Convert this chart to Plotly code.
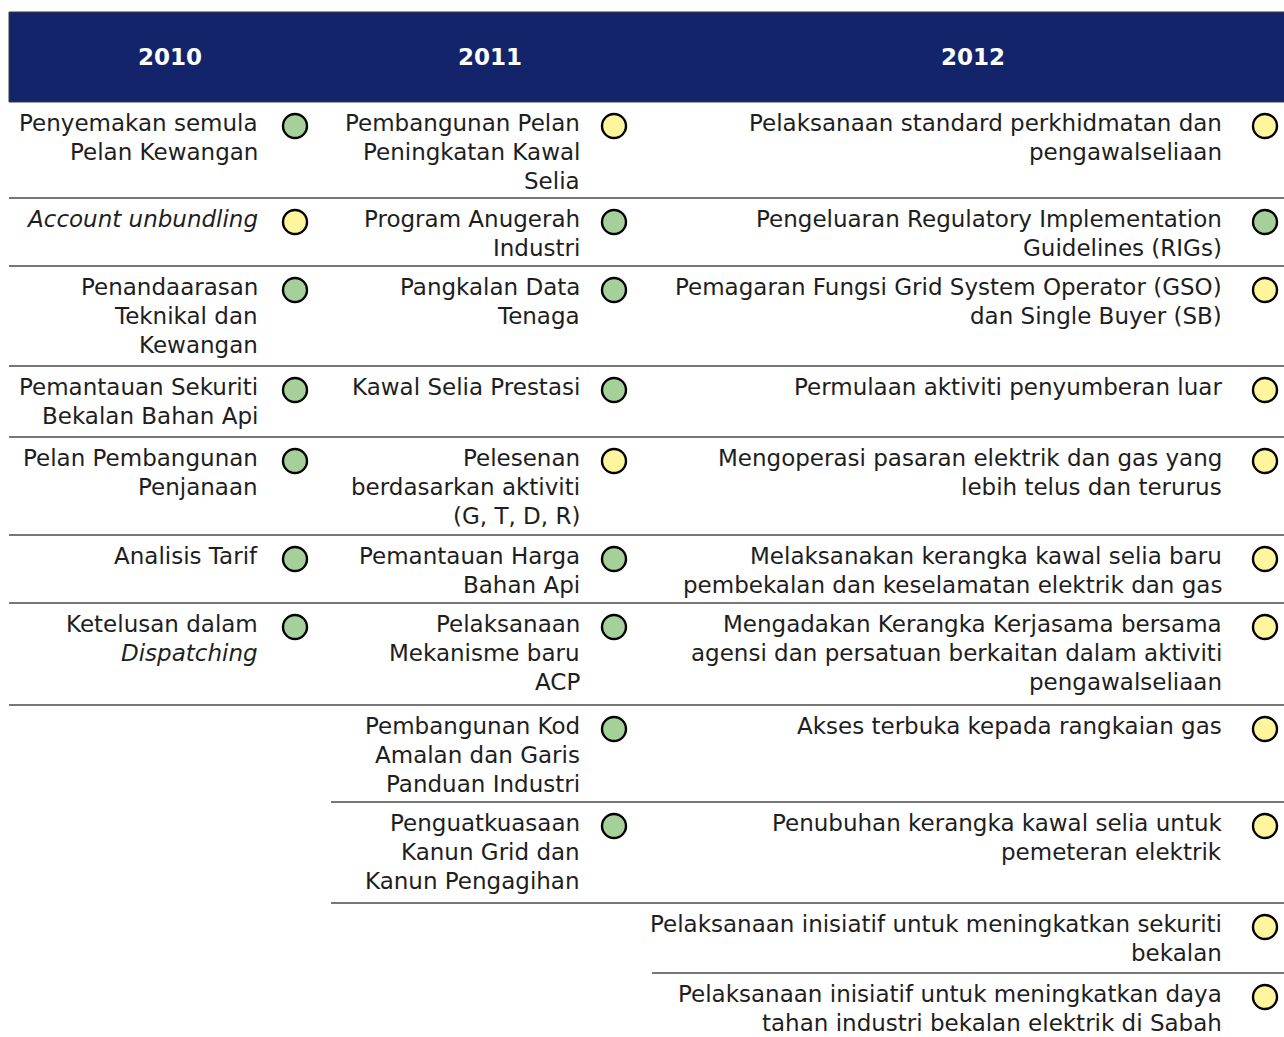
import plotly.graph_objects as go

# ---- data ----
years = ["2010", "2011", "2012"]

items_2010 = [
    "Penyemakan semula<br>Pelan Kewangan",
    "<i>Account unbundling</i>",
    "Penandaarasan<br>Teknikal dan<br>Kewangan",
    "Pemantauan Sekuriti<br>Bekalan Bahan Api",
    "Pelan Pembangunan<br>Penjanaan",
    "Analisis Tarif",
    "Ketelusan dalam<br><i>Dispatching</i>",
]
status_2010 = ["G", "Y", "G", "G", "G", "G", "G"]

items_2011 = [
    "Pembangunan Pelan<br>Peningkatan Kawal<br>Selia",
    "Program Anugerah<br>Industri",
    "Pangkalan Data<br>Tenaga",
    "Kawal Selia Prestasi",
    "Pelesenan<br>berdasarkan aktiviti<br>(G, T, D, R)",
    "Pemantauan Harga<br>Bahan Api",
    "Pelaksanaan<br>Mekanisme baru<br>ACP",
    "Pembangunan Kod<br>Amalan dan Garis<br>Panduan Industri",
    "Penguatkuasaan<br>Kanun Grid dan<br>Kanun Pengagihan",
]
status_2011 = ["Y", "G", "G", "G", "Y", "G", "G", "G", "G"]

items_2012 = [
    "Pelaksanaan standard perkhidmatan dan<br>pengawalseliaan",
    "Pengeluaran Regulatory Implementation<br>Guidelines (RIGs)",
    "Pemagaran Fungsi Grid System Operator (GSO)<br>dan Single Buyer (SB)",
    "Permulaan aktiviti penyumberan luar",
    "Mengoperasi pasaran elektrik dan gas yang<br>lebih telus dan terurus",
    "Melaksanakan kerangka kawal selia baru<br>pembekalan dan keselamatan elektrik dan gas",
    "Mengadakan Kerangka Kerjasama bersama<br>agensi dan persatuan berkaitan dalam aktiviti<br>pengawalseliaan",
    "Akses terbuka kepada rangkaian gas",
    "Penubuhan kerangka kawal selia untuk<br>pemeteran elektrik",
    "Pelaksanaan inisiatif untuk meningkatkan sekuriti<br>bekalan",
    "Pelaksanaan inisiatif untuk meningkatkan daya<br>tahan industri bekalan elektrik di Sabah",
]
status_2012 = ["Y", "G", "Y", "Y", "Y", "Y", "Y", "Y", "Y", "Y", "Y"]

# ---- layout constants (pixels) ----
W, H = 1284, 1037
HEADER_TOP, HEADER_BOT = 12, 102
ROW_EDGES = [102, 198, 266, 366, 437, 535, 603, 705, 802, 903, 973, 1045]
LINE_H = 29
COLS = [  # (left, right, text right edge, circle x, header centre)
    (9, 331, 260, 295, 170),
    (331, 652, 582, 614, 490),
    (652, 1284, 1224, 1265, 973),
]
NAVY = "#13246A"
GREEN = "#A5D09A"
YELLOW = "#FFF59D"
FONT = "DejaVu Sans"

columns = [(items_2010, status_2010), (items_2011, status_2011), (items_2012, status_2012)]

fig = go.Figure()
shapes = []
annotations = []

shapes.append(dict(type="rect", xref="x", yref="y", x0=9, x1=W + 2, y0=HEADER_TOP, y1=HEADER_BOT,
                   fillcolor=NAVY, line=dict(color="#3a3a3a", width=1), layer="below"))

for (left, right, tx, cx, hx), year, (items, status) in zip(COLS, years, columns):
    annotations.append(dict(x=hx, y=(HEADER_TOP + HEADER_BOT) / 2, xref="x", yref="y",
                            text="<b>" + year + "</b>", showarrow=False,
                            font=dict(family=FONT, size=23, color="white")))
    ys = []
    for i, txt in enumerate(items):
        top, bot = ROW_EDGES[i], ROW_EDGES[i + 1]
        for k, line in enumerate(txt.split("<br>")):
            annotations.append(dict(x=tx, y=top + 20.5 + LINE_H * k, xref="x", yref="y", text=line,
                                    showarrow=False, xanchor="right", yanchor="middle",
                                    font=dict(family=FONT, size=23, color="#1e1e1e")))
        ys.append(top + 24)
        if bot < H:
            shapes.append(dict(type="line", xref="x", yref="y", x0=left, x1=right + (2 if right == W else 0),
                               y0=bot, y1=bot, line=dict(color="#4a4a4a", width=1.6)))
    fig.add_trace(go.Scatter(
        x=[cx] * len(items), y=ys, mode="markers", hoverinfo="skip", showlegend=False,
        marker=dict(size=24, color=[GREEN if s == "G" else YELLOW for s in status],
                    line=dict(color="black", width=2.4)),
    ))

fig.update_layout(
    width=W, height=H, margin=dict(l=0, r=0, t=0, b=0),
    paper_bgcolor="white", plot_bgcolor="white",
    xaxis=dict(range=[0, W], visible=False, fixedrange=True),
    yaxis=dict(range=[H, 0], visible=False, fixedrange=True),
    shapes=shapes, annotations=annotations,
)

fig.write_html(
    "out.html",
    config={"displayModeBar": False},
    post_script="document.body.style.margin='0';document.body.style.overflow='hidden';",
)
